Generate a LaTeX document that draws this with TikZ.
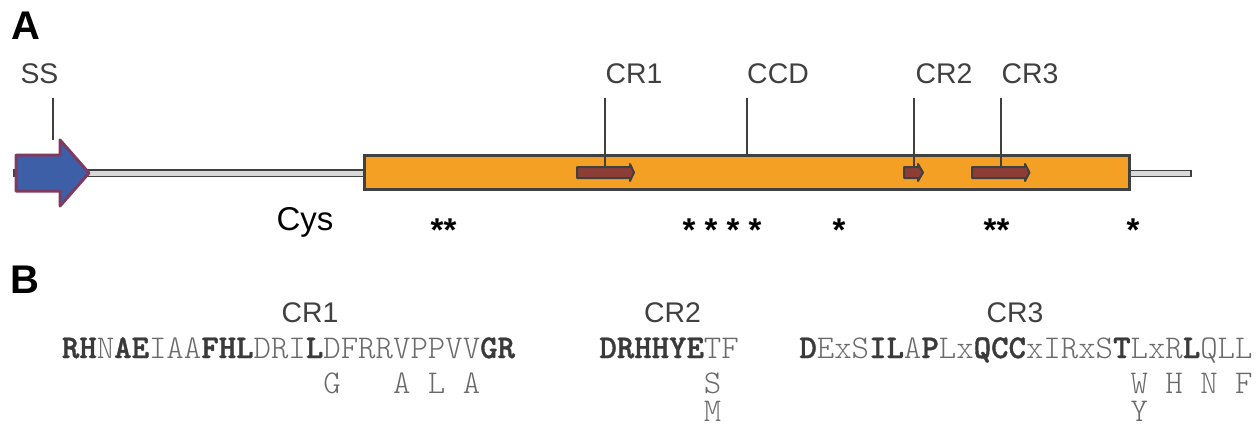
\documentclass[tikz,border=0pt]{standalone}
\usepackage{fontspec}
\setmainfont{Liberation Sans}
\newfontfamily\seqfont{lmmonolt10-regular.otf}[BoldFont=lmmonolt10-bold.otf, BoldFeatures={FakeBold=1.2}]
\definecolor{labgray}{HTML}{404040}
\definecolor{linegray}{HTML}{404040}
\definecolor{seqdark}{HTML}{3A3A3A}
\definecolor{seqlight}{HTML}{6A6A6A}
\definecolor{orangefill}{HTML}{F4A024}
\definecolor{bluefill}{HTML}{3C5FA8}
\definecolor{purpleedge}{HTML}{803A62}
\definecolor{brownfill}{HTML}{8C3D36}
\definecolor{greyfill}{HTML}{D9D9D9}
\newcommand\sqb[1]{{\bfseries\color{seqdark}#1}}
\tikzset{
  panel/.style={font=\bfseries\fontsize{20}{20}\selectfont, anchor=base, inner sep=0pt, text=black},
  lab/.style={font=\fontsize{14.2}{14.2}\selectfont, text=labgray, anchor=base, inner sep=0pt},
  cyslab/.style={font=\fontsize{16.5}{16.5}\selectfont, text=black, anchor=base, inner sep=0pt},
  star/.style={font=\bfseries\fontsize{16.5}{16.5}\selectfont, text=black, anchor=base, inner sep=0pt},
  seq/.style={font=\seqfont\fontsize{16.6}{16.6}\selectfont, text=seqlight, anchor=base west, inner sep=0pt},
  tick/.style={draw=linegray, line width=1pt},
  backbone/.style={draw=linegray, fill=greyfill, line width=0.6pt},
  ccdbox/.style={draw=linegray, fill=orangefill, line width=1.5pt},
  sigarrow/.style={draw=purpleedge, fill=bluefill, line width=1.5pt, line join=round},
  crarrow/.style={draw=linegray, fill=brownfill, line width=1pt, line join=round},
}
\begin{document}
\begin{tikzpicture}[x=0.5pt, y=-0.5pt]
\useasboundingbox (0,0) rectangle (1258,424);

% ---------- Panel A ----------
\node[panel] (pA) at (26,39) {A};

% backbone lines
\draw[backbone] (14,170) rectangle (365,176.5);
\draw[backbone] (1129,170.5) rectangle (1191,176.5);

% signal sequence arrow
\draw[sigarrow] (16,155) -- (60,155) -- (60,140) -- (89,173) -- (60,206) -- (60,191) -- (16,191) -- cycle;

% CCD domain box
\draw[ccdbox] (364.5,155) rectangle (1129,189);

% CR arrows
\draw[crarrow] (577,167) -- (630,167) -- (630,164) -- (634,172.5) -- (630,181) -- (630,178) -- (577,178) -- cycle;
\draw[crarrow] (904,167) -- (918,167) -- (918,164) -- (923,172.5) -- (918,181) -- (918,178) -- (904,178) -- cycle;
\draw[crarrow] (972,167) -- (1025,167) -- (1025,164) -- (1029.5,172.5) -- (1025,181) -- (1025,178) -- (972,178) -- cycle;

% labels
\node[lab] (ss)  at (39.5,83) {SS};
\node[lab] (cr1) at (634,83) {CR1};
\node[lab] (ccd) at (778,83) {CCD};
\node[lab] (cr2) at (944,83) {CR2};
\node[lab] (cr3) at (1030,83) {CR3};

% tick coordinates
\coordinate (ssT)  at (53,98);    \coordinate (ssB)  at (53,140);
\coordinate (cr1T) at (605,98);   \coordinate (cr1B) at (605,167);
\coordinate (ccdT) at (746.5,98); \coordinate (ccdB) at (746.5,155);
\coordinate (cr2T) at (913.5,98); \coordinate (cr2B) at (913.5,167);
\coordinate (cr3T) at (1000.5,98);\coordinate (cr3B) at (1000.5,167);
\draw[tick] (ssT) -- (ssB);
\draw[tick] (cr1T) -- (cr1B);
\draw[tick] (ccdT) -- (ccdB);
\draw[tick] (cr2T) -- (cr2B);
\draw[tick] (cr3T) -- (cr3B);

% cysteines
\node[cyslab] (cys) at (305,230) {Cys};
\node[star] (s1) at (443.5,241) {**};
\node[star] (s2) at (722,241) {* * * *};
\node[star] (s3) at (839,241) {*};
\node[star] (s4) at (996.5,241) {**};
\node[star] (s5) at (1133,241) {*};

% ---------- Panel B ----------
\node[panel] (pB) at (25,293) {B};
\node[lab] (bcr1) at (310,322) {CR1};
\node[lab] (bcr2) at (672.5,322) {CR2};
\node[lab] (bcr3) at (1015,322) {CR3};

% CR1 sequence
\node[seq] (q1a) at (61.5,358) {\sqb{RH}N\sqb{AE}IAA\sqb{FHL}DRI\sqb{L}DFRRVPPVV\sqb{GR}};
\node[seq] (q1b) at (61.5,393) {\hphantom{XXXXXXXXXXXXXXX}G\hphantom{XXX}A\hphantom{X}L\hphantom{X}A};

% CR2 sequence
\node[seq] (q2a) at (599,358) {\sqb{DRHHYE}TF};
\node[seq] (q2b) at (599,393) {\hphantom{XXXXXX}S};
\node[seq] (q2c) at (599,421) {\hphantom{XXXXXX}M};

% CR3 sequence
\node[seq] (q3a) at (799,358) {\sqb{D}ExS\sqb{IL}A\sqb{P}Lx\sqb{QCC}xIRxS\sqb{T}LxR\sqb{L}QLL};
\node[seq] (q3b) at (799,393) {\hphantom{XXXXXXXXXXXXXXXXXXX}W\hphantom{X}H\hphantom{X}N\hphantom{X}F};
\node[seq] (q3c) at (799,421) {\hphantom{XXXXXXXXXXXXXXXXXXX}Y};
\end{tikzpicture}
\end{document}
